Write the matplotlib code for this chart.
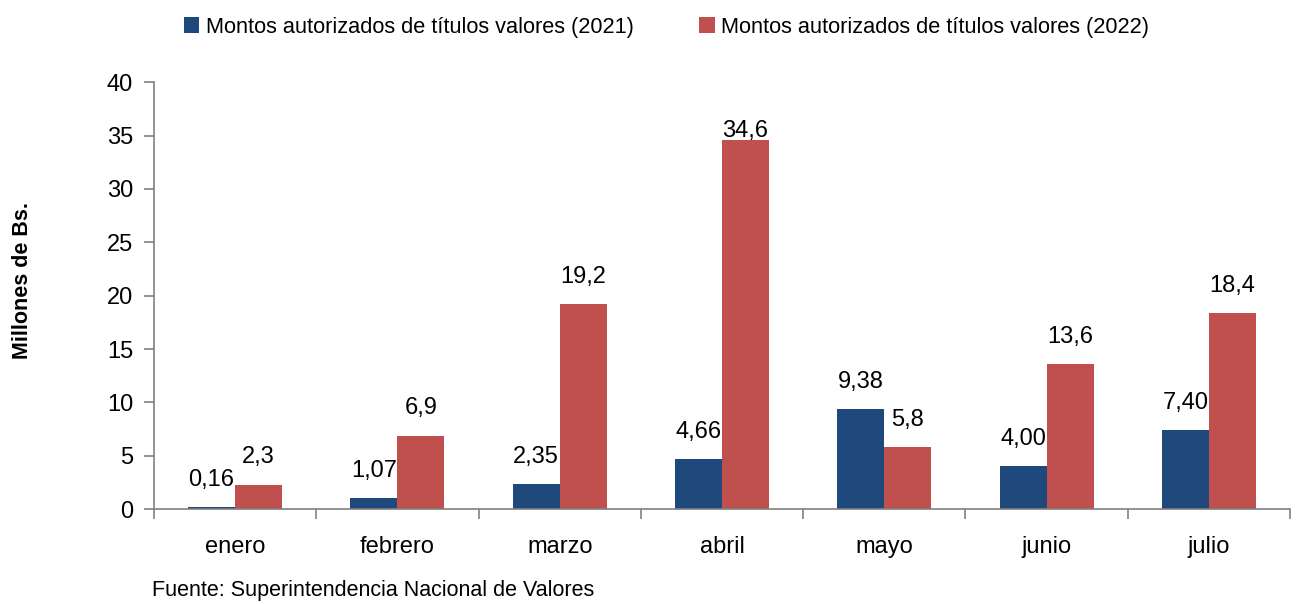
import numpy as np
import matplotlib.pyplot as plt

months = ["enero", "febrero", "marzo", "abril", "mayo", "junio", "julio"]
montos_2021 = [0.16, 1.07, 2.35, 4.66, 9.38, 4.00, 7.40]
montos_2022 = [2.3, 6.9, 19.2, 34.6, 5.8, 13.6, 18.4]
labels_2021 = ["0,16", "1,07", "2,35", "4,66", "9,38", "4,00", "7,40"]
labels_2022 = ["2,3", "6,9", "19,2", "34,6", "5,8", "13,6", "18,4"]

plt.rcParams["font.family"] = ["Liberation Sans", "DejaVu Sans"]

blue = "#1F497D"
red = "#C0504D"
grey = "#808080"

fig = plt.figure(figsize=(12.96, 6.04), dpi=100)
ax = fig.add_axes([0.1188, 0.157, 0.8766, 0.707])

x = np.arange(len(months))
w = 0.29
b1 = ax.bar(x - w / 2, montos_2021, w, color=blue,
            label="Montos autorizados de títulos valores (2021)")
b2 = ax.bar(x + w / 2, montos_2022, w, color=red,
            label="Montos autorizados de títulos valores (2022)")

# labels above bars, kept inside the plot area like the original
for bars, labs in [(b1, labels_2021), (b2, labels_2022)]:
    for rect, lab in zip(bars, labs):
        ypos = min(rect.get_height() + 2.55, 35.4)
        ax.text(rect.get_x() + rect.get_width() / 2, ypos, lab,
                ha="center", va="center", fontsize=17)

ax.set_xlim(-0.5, len(months) - 0.5)
ax.set_ylim(0, 40)
ax.set_yticks(range(0, 41, 5))
ax.set_xticks(x)
ax.set_xticklabels(months)
ax.set_xticks(np.arange(-0.5, len(months)), minor=True)
ax.tick_params(axis="x", which="major", length=0, pad=19, labelsize=17)
ax.tick_params(axis="x", which="minor", length=7, color=grey, width=1.2)
ax.tick_params(axis="y", length=7, color=grey, width=1.2, labelsize=17, pad=8)

for s in ["top", "right"]:
    ax.spines[s].set_visible(False)
for s in ["left", "bottom"]:
    ax.spines[s].set_color(grey)
    ax.spines[s].set_linewidth(1.2)

fig.text(0.017, 0.535, "Millones de Bs.", rotation=90, fontsize=15.5,
         fontweight="bold", ha="center", va="center")
fig.text(0.117, 0.005, "Fuente: Superintendencia Nacional de Valores",
         fontsize=15.5, ha="left", va="bottom")

fig.legend(loc="upper left", bbox_to_anchor=(0.127, 1.005), ncol=2,
           frameon=False, fontsize=15.7, handlelength=0.7, handleheight=0.7,
           handletextpad=0.3, columnspacing=3.0)

fig.savefig("out.png", dpi=100)
